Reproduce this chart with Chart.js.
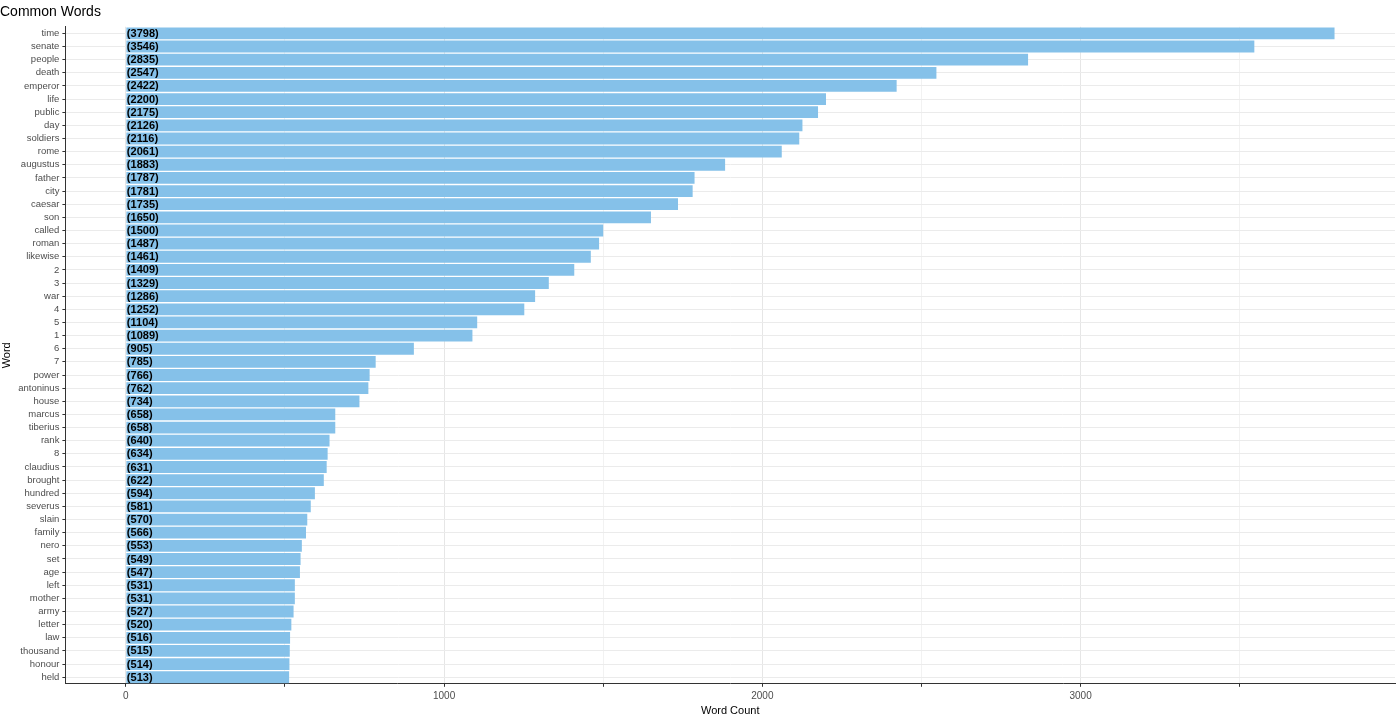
<!DOCTYPE html>
<html><head><meta charset="utf-8">
<script src="https://cdn.jsdelivr.net/npm/chart.js@4"></script>
<style>html,body{margin:0;padding:0;background:#fff}#w{width:1400px;height:720px;position:relative}</style>
</head><body><div id="w"><canvas id="c"></canvas></div>
<script>
const words = ["time","senate","people","death","emperor","life","public","day","soldiers","rome","augustus","father","city","caesar","son","called","roman","likewise","2","3","war","4","5","1","6","7","power","antoninus","house","marcus","tiberius","rank","8","claudius","brought","hundred","severus","slain","family","nero","set","age","left","mother","army","letter","law","thousand","honour","held"];
const counts = [3798,3546,2835,2547,2422,2200,2175,2126,2116,2061,1883,1787,1781,1735,1650,1500,1487,1461,1409,1329,1286,1252,1104,1089,905,785,766,762,734,658,658,640,634,631,622,594,581,570,566,553,549,547,531,531,527,520,516,515,514,513];
const labelPlugin = {
  id:'lbl',
  afterDatasetsDraw(chart){
    const {ctx, scales:{x,y}} = chart;
    ctx.save();
    ctx.font = 'bold 11px "Liberation Sans", Arial, sans-serif';
    ctx.fillStyle = '#000'; ctx.textAlign='left'; ctx.textBaseline='middle';
    counts.forEach((v,i)=>{ ctx.fillText('('+v+')', x.getPixelForValue(0)+1, y.getPixelForValue(i)+0.5); });
    ctx.restore();
  }
};
new Chart(document.getElementById('c'), {
  type:'bar',
  data:{labels:words, datasets:[{data:counts, backgroundColor:'#85C1E9', barPercentage:0.9, categoryPercentage:1}]},
  plugins:[labelPlugin],
  options:{
    indexAxis:'y', responsive:true, maintainAspectRatio:false, animation:false,
    layout:{padding:{left:0,right:5,top:0,bottom:2}},
    plugins:{legend:{display:false}, tooltip:{enabled:false},
      title:{display:true, text:'Common Words', align:'start', color:'#000', font:{size:14, family:'"Liberation Sans", Arial, sans-serif', weight:'normal'}, padding:{top:4,bottom:6}}},
    scales:{
      x:{min:-190, max:3988, afterBuildTicks(s){s.ticks=[0,500,1000,1500,2000,2500,3000,3500].map(v=>({value:v}));},
        ticks:{callback:(v)=> v%1000===0 ? String(v) : '', color:'#4d4d4d', font:{size:10, family:'"Liberation Sans", Arial, sans-serif'}, maxRotation:0, autoSkip:false},
        grid:{color:(c)=> c.tick && c.tick.value%1000===0 ? '#e6e6e6' : '#f2f2f2', tickColor:'#333', tickLength:3},
        border:{display:true, color:'#333'},
        title:{display:true, text:'Word Count', color:'#000', font:{size:11, family:'"Liberation Sans", Arial, sans-serif'}, padding:{top:0,bottom:0}}},
      y:{ticks:{color:'#4d4d4d', autoSkip:false, font:{size:9.5, family:'"Liberation Sans", Arial, sans-serif'}, padding:3},
        grid:{color:'#ebebeb', tickColor:'#333', tickLength:3, offset:false},
        border:{display:true, color:'#333'},
        title:{display:true, text:'Word', color:'#000', font:{size:11, family:'"Liberation Sans", Arial, sans-serif'}, padding:{top:0,bottom:2}}}
    }
  }
});
</script></body></html>
